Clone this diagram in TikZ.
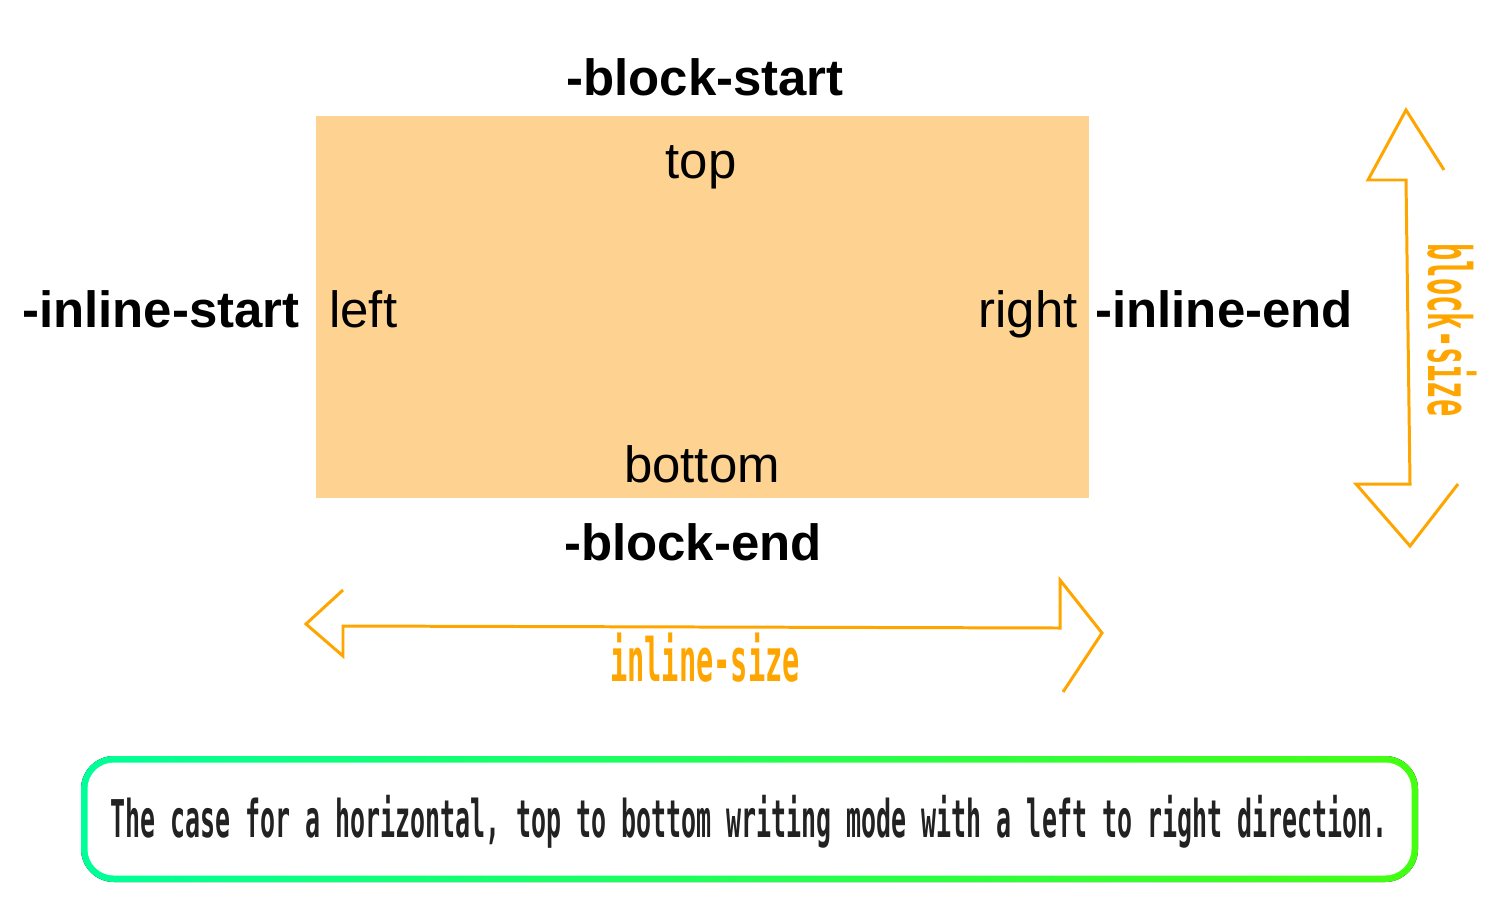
\documentclass[tikz,border=0pt]{standalone}
\usepackage{fontspec}
\setmainfont{Liberation Sans}
\newfontfamily\narrowmono[FakeStretch=0.48]{DejaVu Sans Mono Bold}
\definecolor{boxfill}{HTML}{FED391}
\definecolor{sizeorange}{HTML}{FFA500}
\definecolor{noteleft}{HTML}{00FF99}
\definecolor{noteright}{HTML}{44FF11}
\definecolor{notetext}{HTML}{222222}
\begin{document}
\begin{tikzpicture}[x=0.02cm,y=-0.02cm,
    logical/.style={font=\bfseries\fontsize{29}{34}\selectfont, inner sep=0pt},
    physical/.style={font=\fontsize{29}{34}\selectfont, inner sep=0pt},
    sizelabel/.style={font=\narrowmono\fontsize{34}{40}\selectfont, text=sizeorange, inner sep=0pt},
    sizearrow/.style={draw=sizeorange, line width=1.7pt, line join=miter}]
    \useasboundingbox (0,0) rectangle (1500,900);

    % Box
    \fill[boxfill] (316,116) rectangle (1089,498);

    % physical names
    \node[physical, anchor=base] (top) at (701,178) {top};
    \node[physical, anchor=base] (bottom) at (702,482) {bottom};
    \node[physical, anchor=base west] (left) at (329,327) {left};
    \node[physical, anchor=base east] (right) at (1078,327) {right};

    % logical names
    \node[logical, anchor=base] (blockstart) at (705,95) {-block-start};
    \node[logical, anchor=base] (blockend) at (693,560) {-block-end};
    \node[logical, anchor=base east] (inlinestart) at (300,327) {-inline-start};
    \node[logical, anchor=base west] (inlineend) at (1095,327) {-inline-end};

    % block-size
    \draw[sizearrow] (1444,170) -- (1406,110) -- (1368,180) -- (1406,180)
        -- (1410,484) -- (1356,484) -- (1410,546) -- (1458,484);
    \node[sizelabel, anchor=base, rotate=-90] (blocksize) at (1428,330) {block-size};

    % inline-size
    \draw[sizearrow] (343,590) -- (306,624) -- (343,656) -- (343,626)
        -- (1060,628) -- (1060,580) -- (1102,633) -- (1063,692);
    \node[sizelabel, anchor=base] (inlinesize) at (705,681) {inline-size};

    % Note
    \fill[left color=noteleft, right color=noteright, rounded corners=0.66cm] (81,756) rectangle (1418,882);
    \fill[white, rounded corners=0.53cm] (87.5,762.5) rectangle (1411.5,875.5);
    \node[font=\narrowmono\fontsize{29.6}{36}\selectfont, text=notetext, anchor=base, inner sep=0pt] (note) at (749,837)
        {The case for a horizontal, top to bottom writing mode with a left to right direction.};
\end{tikzpicture}
\end{document}
